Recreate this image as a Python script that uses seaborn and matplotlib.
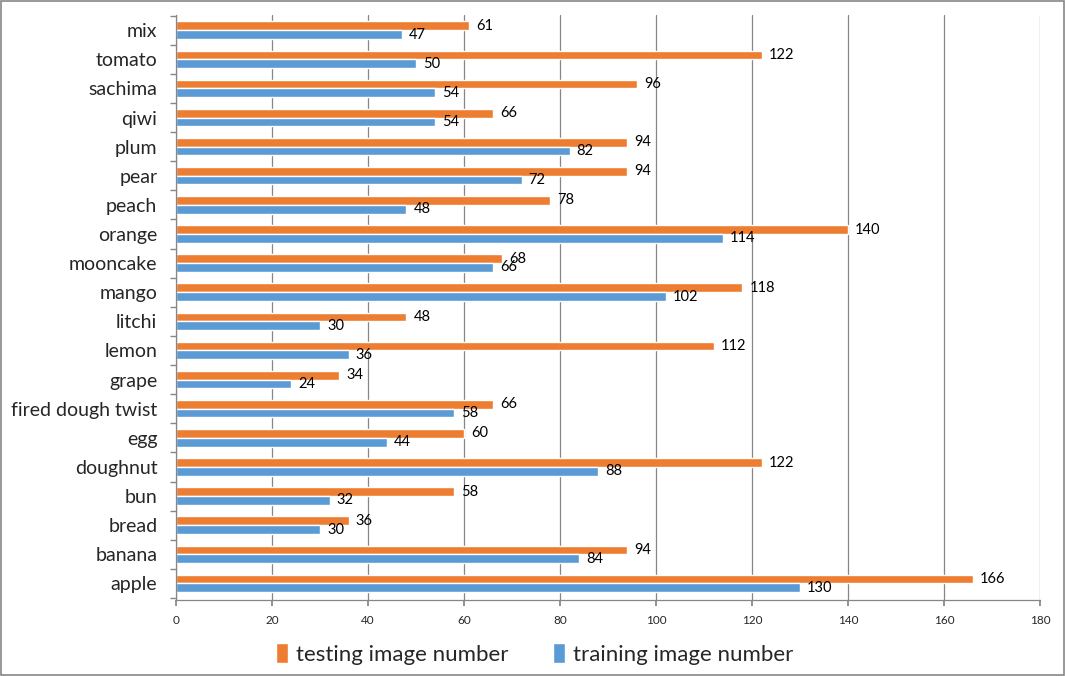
import matplotlib
matplotlib.use("Agg")
import matplotlib.pyplot as plt
import seaborn as sns
import pandas as pd
from matplotlib.patches import Rectangle

categories = ["mix", "tomato", "sachima", "qiwi", "plum", "pear", "peach", "orange",
              "mooncake", "mango", "litchi", "lemon", "grape", "fired dough twist",
              "egg", "doughnut", "bun", "bread", "banana", "apple"]
testing = [61, 122, 96, 66, 94, 94, 78, 140, 68, 118, 48, 112, 34, 66, 60, 122, 58, 36, 94, 166]
training = [47, 50, 54, 54, 82, 72, 48, 114, 66, 102, 30, 36, 24, 58, 44, 88, 32, 30, 84, 130]
series = ["testing image number", "training image number"]
xticks = [0, 20, 40, 60, 80, 100, 120, 140, 160, 180]

df = pd.DataFrame({
    "category": categories * 2,
    "value": testing + training,
    "series": [series[0]] * len(categories) + [series[1]] * len(categories),
})

sns.set_theme(style="white")
plt.rcParams["font.family"] = ["Lato", "DejaVu Sans"]

fig = plt.figure(figsize=(10.65, 6.76), dpi=100)
ax = fig.add_axes([0.1653, 0.1124, 0.8112, 0.8654])

sns.barplot(data=df, y="category", x="value", hue="series", order=categories,
            hue_order=series, palette=["#ED7D31", "#5B9BD5"], orient="h",
            width=0.6, ax=ax, saturation=1, errorbar=None, legend=True)

for cont in ax.containers:
    ax.bar_label(cont, labels=[f"{int(v)}" for v in cont.datavalues], padding=5,
                 fontsize=10.5, color="black")

ax.set_xlim(0, 180)
ax.set_ylim(len(categories) - 1 + 0.57, -0.52)
ax.set_xticks(xticks)
ax.set_xticklabels([str(t) for t in xticks], fontsize=8.5)
ax.tick_params(axis="x", length=4, color="#868686", pad=7, direction="out")
ax.tick_params(axis="both", which="both", left=True, bottom=True)
ax.set_yticks(range(len(categories)))
ax.set_yticks([i + 0.5 for i in range(-1, len(categories))], minor=True)
ax.tick_params(axis="y", which="major", length=0, labelsize=14, pad=13.5)
ax.tick_params(axis="y", which="minor", length=4.5, color="#868686")
ax.set_xlabel("")
ax.set_ylabel("")
ax.xaxis.grid(True, color="#868686", linewidth=0.9)
ax.set_axisbelow(True)
for s in ["top", "right"]:
    ax.spines[s].set_visible(False)
for s in ["left", "bottom"]:
    ax.spines[s].set_color("#868686")
    ax.spines[s].set_linewidth(0.9)

leg = ax.legend(loc="upper center", bbox_to_anchor=(0.415, -0.04), ncol=2, frameon=False,
                fontsize=16, handlelength=0.55, handleheight=1.0, columnspacing=2.0,
                handletextpad=0.35)

fig.patches.append(Rectangle((0.001, 0.001), 0.998, 0.998, transform=fig.transFigure,
                             fill=False, edgecolor="#868686", linewidth=1.2))

fig.savefig("out.png", dpi=100)
